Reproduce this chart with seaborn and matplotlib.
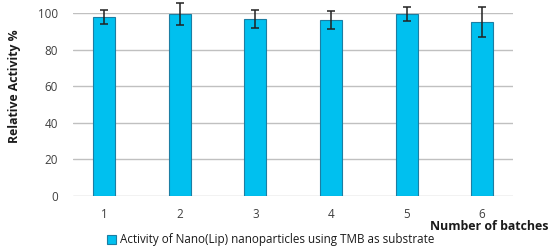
import matplotlib
matplotlib.use("Agg")
import matplotlib.pyplot as plt
import seaborn as sns
import pandas as pd
from matplotlib.patches import Patch

batches = ["1", "2", "3", "4", "5", "6"]
activity = [97.6, 99.7, 96.8, 96.0, 99.4, 95.0]
errors = [3.8, 6.0, 5.0, 5.0, 4.0, 8.2]
series_name = "Activity of Nano(Lip) nanoparticles using TMB as substrate"

df = pd.DataFrame({"batch": batches, "activity": activity})

sns.set_theme(style="white")
plt.rcParams["font.family"] = ["Open Sans", "DejaVu Sans"]

bar_color = "#00c0ef"
edge_color = "#1c7ea3"

fig = plt.figure(figsize=(5.5, 2.5), dpi=100)
ax = fig.add_axes([0.133, 0.216, 0.80, 0.732])

sns.barplot(data=df, x="batch", y="activity", color=bar_color,
            width=0.29, edgecolor=edge_color, linewidth=0.8,
            saturation=1, errorbar=None, ax=ax, zorder=3)

ax.errorbar(range(len(batches)), activity, yerr=errors, fmt="none",
            ecolor="#222222", elinewidth=1.1, capsize=3, capthick=1.1,
            zorder=4, clip_on=False)

ax.set_ylim(0, 100)
ax.set_yticks([0, 20, 40, 60, 80, 100])
ax.grid(axis="y", color="#c0c0c0", linewidth=1, zorder=0)
ax.set_axisbelow(True)
for s in ax.spines.values():
    s.set_visible(False)

ax.tick_params(axis="both", length=0, labelsize=8.4, labelcolor="#404040")
ax.tick_params(axis="y", pad=11)
ax.tick_params(axis="x", pad=9)
ax.set_xlabel("")
ax.set_ylabel("")

fig.text(15 / 550, 1 - 86 / 250, "Relative Activity %", rotation=90,
         ha="center", va="center", fontsize=8.8, fontweight="bold", color="#1a1a1a")
fig.text(548 / 550, 1 - 227 / 250, "Number of batches", ha="right",
         va="center", fontsize=8.9, fontweight="bold", color="#1a1a1a")

handle = Patch(facecolor=bar_color, edgecolor=edge_color, linewidth=0.8)
fig.legend([handle], [series_name], loc="center left",
           bbox_to_anchor=(107 / 550, 1 - 240 / 250), frameon=False,
           fontsize=8.4, handlelength=0.8, handleheight=0.8,
           handletextpad=0.3, borderaxespad=0, borderpad=0,
           labelcolor="#1a1a1a")

fig.savefig("out.png", dpi=100)
